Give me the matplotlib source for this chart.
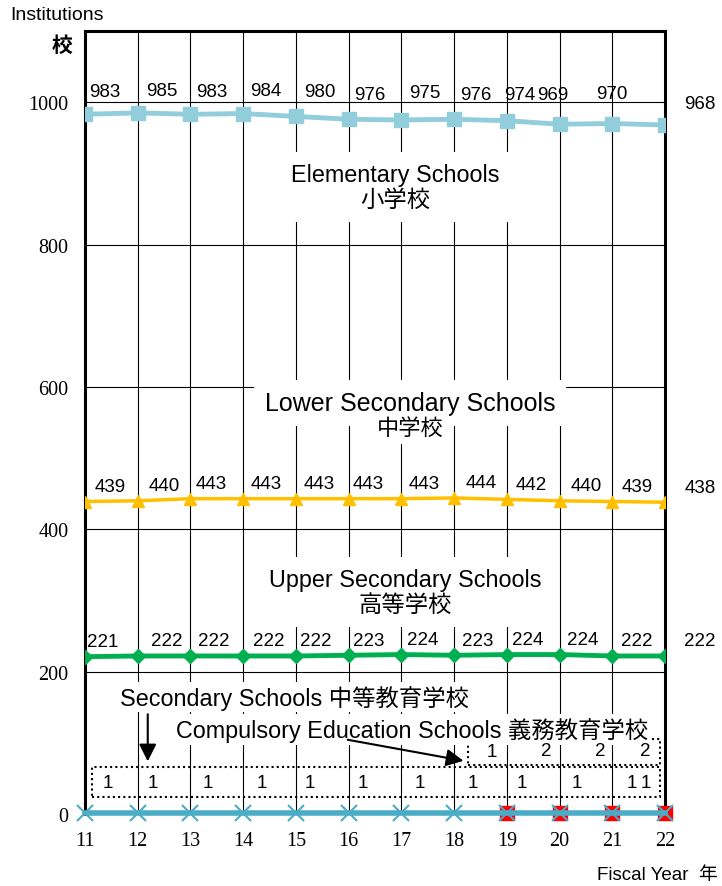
import matplotlib.pyplot as plt
from matplotlib.patches import Rectangle

plt.rcParams['font.family'] = ['Liberation Sans', 'Noto Sans CJK JP']

years = [11, 12, 13, 14, 15, 16, 17, 18, 19, 20, 21, 22]
elementary = [983, 985, 983, 984, 980, 976, 975, 976, 974, 969, 970, 968]
lower_sec = [439, 440, 443, 443, 443, 443, 443, 444, 442, 440, 439, 438]
upper_sec = [221, 222, 222, 222, 222, 223, 224, 223, 224, 224, 222, 222]
secondary = [1, 1, 1, 1, 1, 1, 1, 1, 1, 1, 1, 1]
comp_years = [19, 20, 21, 22]
compulsory = [1, 2, 2, 2]

fig = plt.figure(figsize=(7.22, 8.87), dpi=100)
ax = fig.add_axes([85 / 722, 1 - 815 / 887, 580 / 722, 783 / 887])
ax.set_xlim(11, 22)
ax.set_ylim(0, 1100)
ax.set_xticks(years)
ax.set_yticks([0, 200, 400, 600, 800, 1000])
ax.grid(True, color='black', lw=0.8)
ax.set_axisbelow(True)
ax.tick_params(length=0, pad=12)
for lab in ax.get_xticklabels() + ax.get_yticklabels():
    lab.set_fontfamily('Liberation Serif')
    lab.set_fontsize(14.5)
for s in ['left', 'right', 'top']:
    ax.spines[s].set_linewidth(2.2)
ax.spines['bottom'].set_visible(False)

# series
ax.plot(years, elementary, color='#92CDDC', lw=3.5, marker='s', ms=10, zorder=4)
ax.plot(years, lower_sec, color='#FFC000', lw=2.5, marker='^', ms=9, zorder=4)
ax.plot(years, upper_sec, color='#00B050', lw=3.5, marker='D', ms=7, zorder=4)
ax.plot(comp_years, compulsory, color='red', lw=1, marker='s', ms=10,
        zorder=5, clip_on=False)
ax.plot(years, secondary, color='#4BACC6', lw=4, marker='x', ms=12, mew=1.5,
        zorder=6, clip_on=False)

lab_kw = dict(textcoords='offset pixels', ha='center', va='center',
              fontsize=13.5, annotation_clip=False, zorder=7)

el_dx = [20, 24, 21, 23, 24, 21, 23, 22, 13, -7, 0, 35]
el_dy = [23, 22, 23, 23, 25, 25, 27, 25, 26, 30, 30, 21]
for x, y, dx, dy in zip(years, elementary, el_dx, el_dy):
    ax.annotate(str(y), (x, y), xytext=(dx, dy), **lab_kw)

lo_dx = [25, 27, 21, 23, 23, 20, 23, 27, 24, 27, 25, 35]
for x, y, dx in zip(years, lower_sec, lo_dx):
    ax.annotate(str(y), (x, y), xytext=(dx, 15), **lab_kw)

up_dx = [18, 29, 23, 26, 20, 20, 21, 24, 21, 23, 24, 35]
for x, y, dx in zip(years, upper_sec, up_dx):
    ax.annotate(str(y), (x, y), xytext=(dx, 15), **lab_kw)

se_dx = [23, 15, 17, 19, 14, 14, 18, 19, 15, 17, 20, -19]
for x, y, dx in zip(years, secondary, se_dx):
    ax.annotate(str(y), (x, y), xytext=(dx, 31), **lab_kw)

co_dx = [-15, -13, -12, -20]
for x, y, dx in zip(comp_years, compulsory, co_dx):
    ax.annotate(str(y), (x, y), xytext=(dx, 62), **lab_kw)

# dotted boxes
ax.add_patch(Rectangle((11.13, 24), 21.905 - 11.13, 42, fill=False,
                       ls=(0, (1, 1.5)), lw=1.5, color='black', zorder=3))
ax.add_patch(Rectangle((18.26, 69), 21.905 - 18.26, 36, fill=False,
                       ls=(0, (1, 1.5)), lw=1.5, color='black', zorder=3))

box = dict(facecolor='white', edgecolor='none', pad=8)
ax.text(16.88, 881, 'Elementary Schools\n小学校', ha='center', va='center',
        fontsize=16.8, linespacing=1.1, bbox=box, zorder=3)
ax.text(17.16, 578, 'Lower Secondary Schools', ha='center', va='center',
        fontsize=18, bbox=dict(facecolor='white', edgecolor='none', pad=8), zorder=3)
ax.text(17.16, 542, '中学校', ha='center', va='center', fontsize=16,
        bbox=dict(facecolor='white', edgecolor='none', pad=4), zorder=3)
ax.text(17.07, 312, 'Upper Secondary Schools\n高等学校', ha='center', va='center',
        fontsize=16.8, linespacing=1.1, bbox=box, zorder=3)
ax.text(14.98, 164, 'Secondary Schools 中等教育学校', ha='center', va='center',
        fontsize=16.8, bbox=dict(facecolor='white', edgecolor='none', pad=2), zorder=3)
ax.text(17.2, 119, 'Compulsory Education Schools 義務教育学校', ha='center',
        va='center', fontsize=16.8,
        bbox=dict(facecolor='white', edgecolor='none', pad=2), zorder=3)

arrow = dict(arrowstyle='-|>', color='black', lw=1.5, mutation_scale=26)
ax.annotate('', xy=(12.19, 70), xytext=(12.19, 144), arrowprops=arrow, zorder=4)
ax.annotate('', xy=(18.23, 74), xytext=(15.93, 105), arrowprops=arrow, zorder=4)

fig.text(10 / 722, 1 - 15 / 887, 'Institutions', fontsize=14, va='center')
fig.text(62 / 722, 1 - 45 / 887, '校', fontsize=15, va='center', ha='center',
         fontfamily='Noto Sans CJK JP', fontweight='bold')
fig.text(597 / 722, 1 - 876 / 887, 'Fiscal Year  年', fontsize=13.5, va='center')

fig.savefig('out.png', dpi=100)
